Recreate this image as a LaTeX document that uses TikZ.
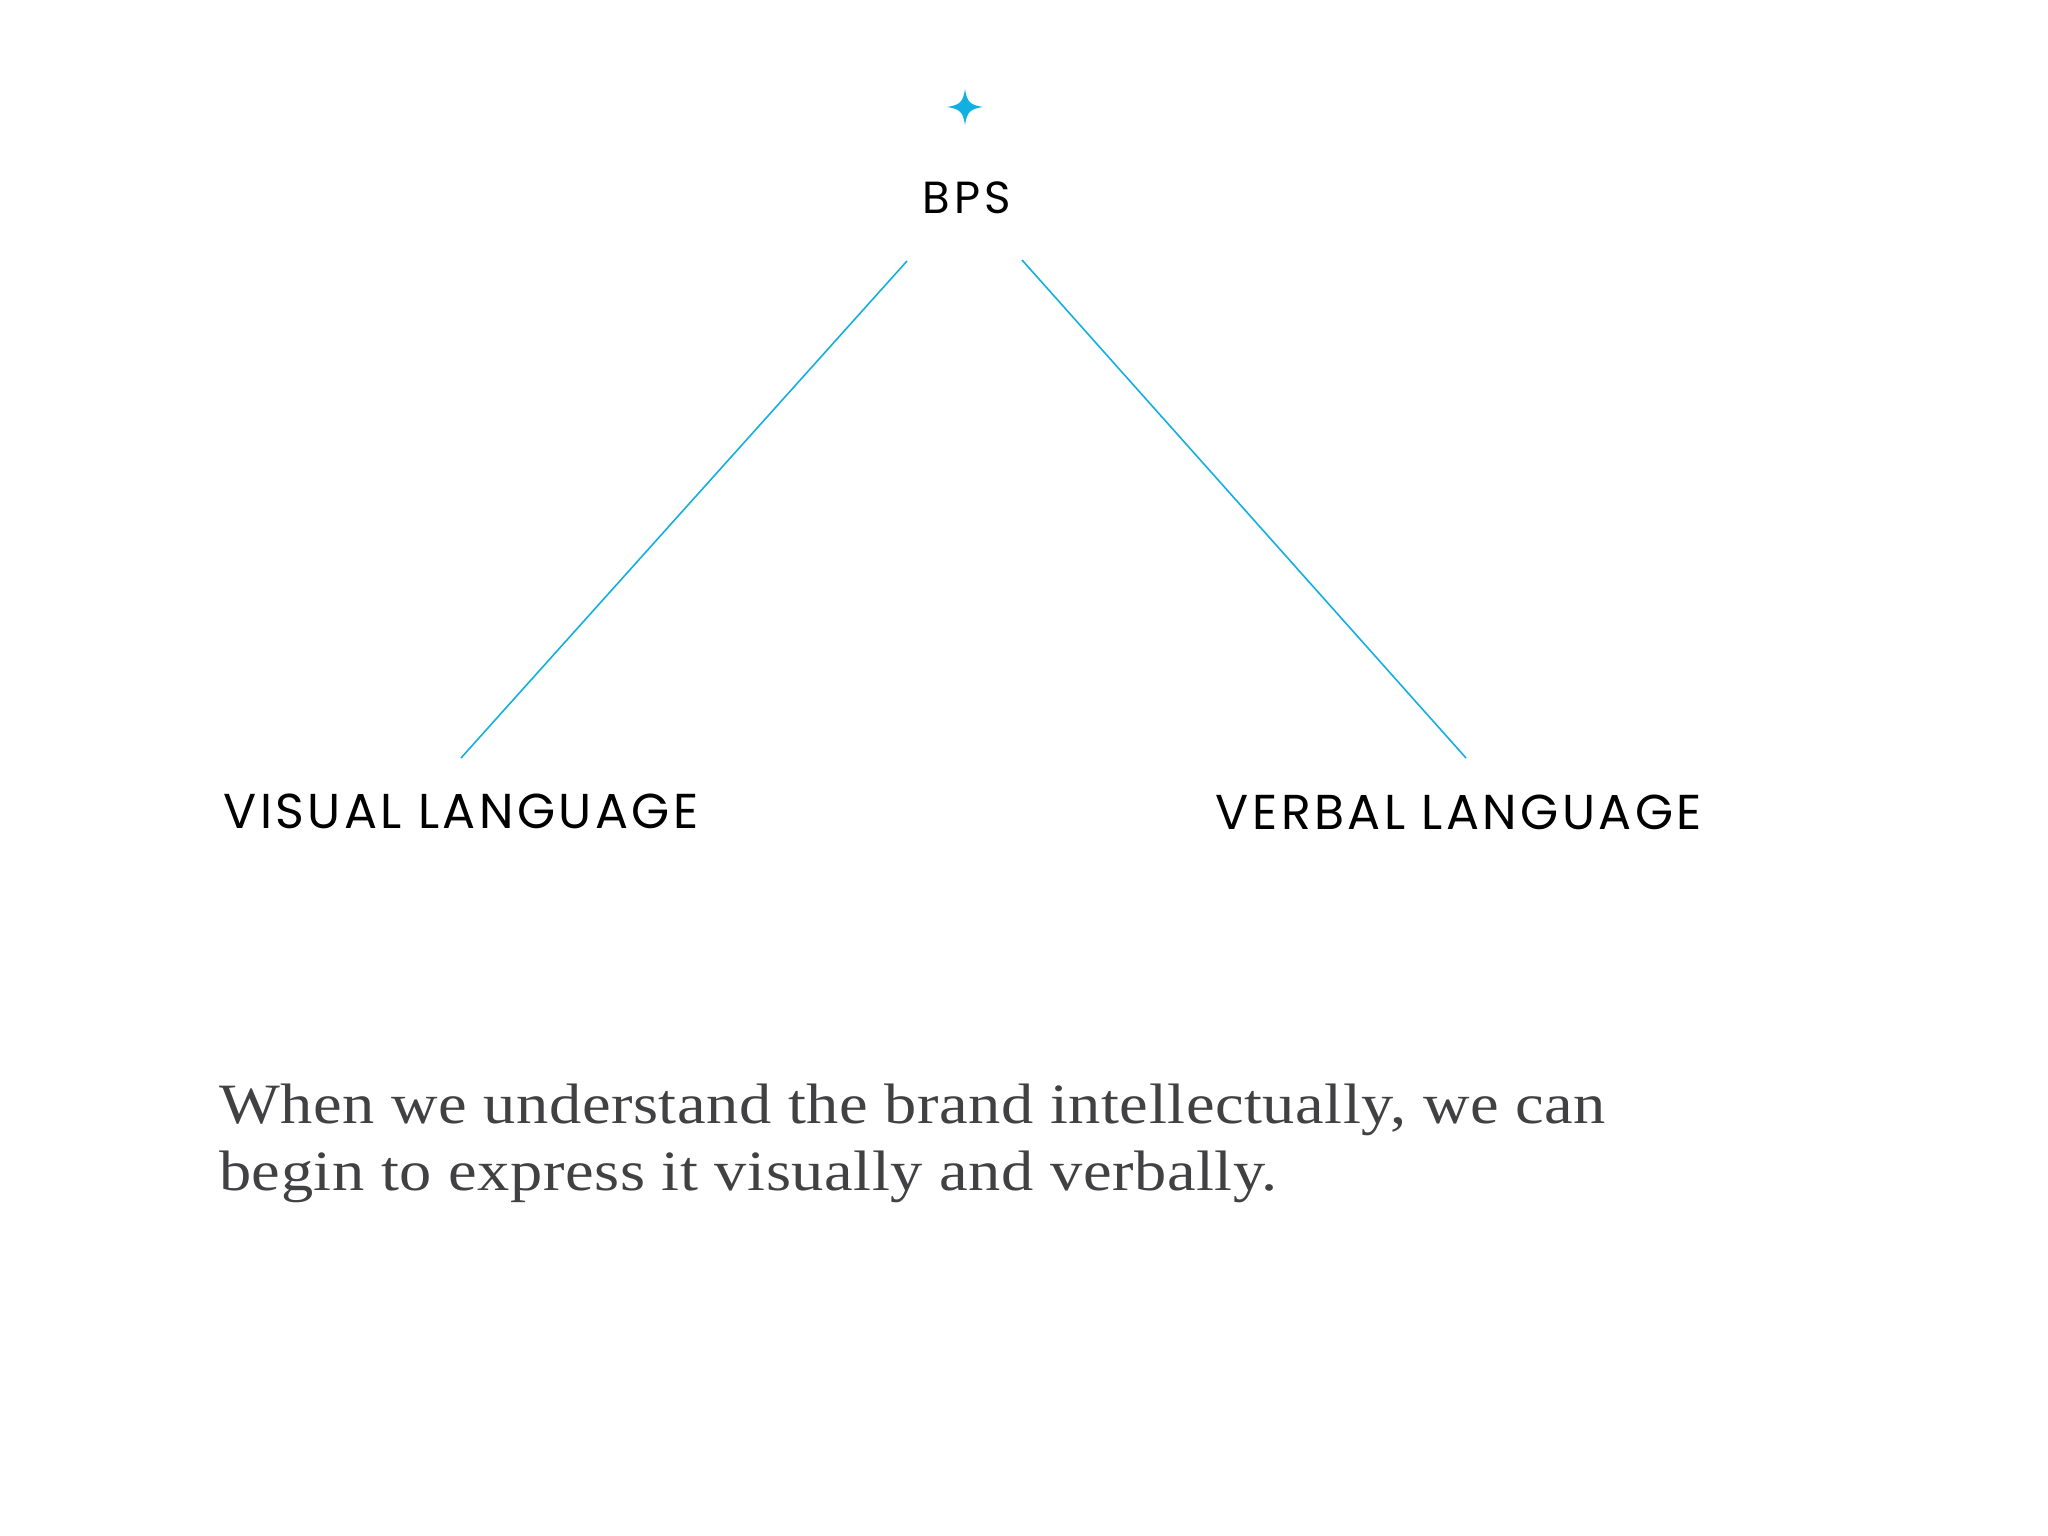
\documentclass[tikz,border=0pt]{standalone}
\usepackage{fontspec}
\setmainfont{Liberation Serif}[FakeStretch=1.13,LetterSpace=1]
\newfontfamily\labelfont{Poppins}[LetterSpace=7]
\newfontfamily\toplabelfont{Poppins}[LetterSpace=9]
\definecolor{bpscyan}{HTML}{12B0E2}
\definecolor{bodygray}{HTML}{414042}
\tikzset{
  labeltext/.style={font=\labelfont\fontsize{49}{52}\selectfont, text=black, inner sep=0pt, anchor=base},
  link/.style={draw=bpscyan, line width=1.6pt},
  bodytext/.style={font=\fontsize{57}{67}\selectfont, text=bodygray, inner sep=0pt, anchor=base west, align=left}
}
\begin{document}
\begin{tikzpicture}[x=1pt,y=-1pt]
\useasboundingbox[fill=white] (0,0) rectangle (2048,1536);
% star
\fill[bpscyan] (965,89) .. controls (967,102) and (970,105) .. (983,107)
  .. controls (970,109) and (967,112) .. (965,125)
  .. controls (963,112) and (960,109) .. (947,107)
  .. controls (960,105) and (963,102) .. (965,89) -- cycle;
\node[labeltext, font=\toplabelfont\fontsize{45}{48}\selectfont] (bps) at (967,213) {BPS};
\node[labeltext] (visual) at (461,828) {VISUAL LANGUAGE};
\node[labeltext] (verbal) at (1459,829) {VERBAL LANGUAGE};
\coordinate (lt) at (907,261);
\coordinate (rt) at (1022,260);
\coordinate (lb) at (461,758);
\coordinate (rb) at (1466,758);
\draw[link] (lt) -- (lb);
\draw[link] (rt) -- (rb);
\node[bodytext] (body) at (219,1190) {When we understand the brand intellectually, we can\\begin to express it visually and verbally.};
\end{tikzpicture}
\end{document}
